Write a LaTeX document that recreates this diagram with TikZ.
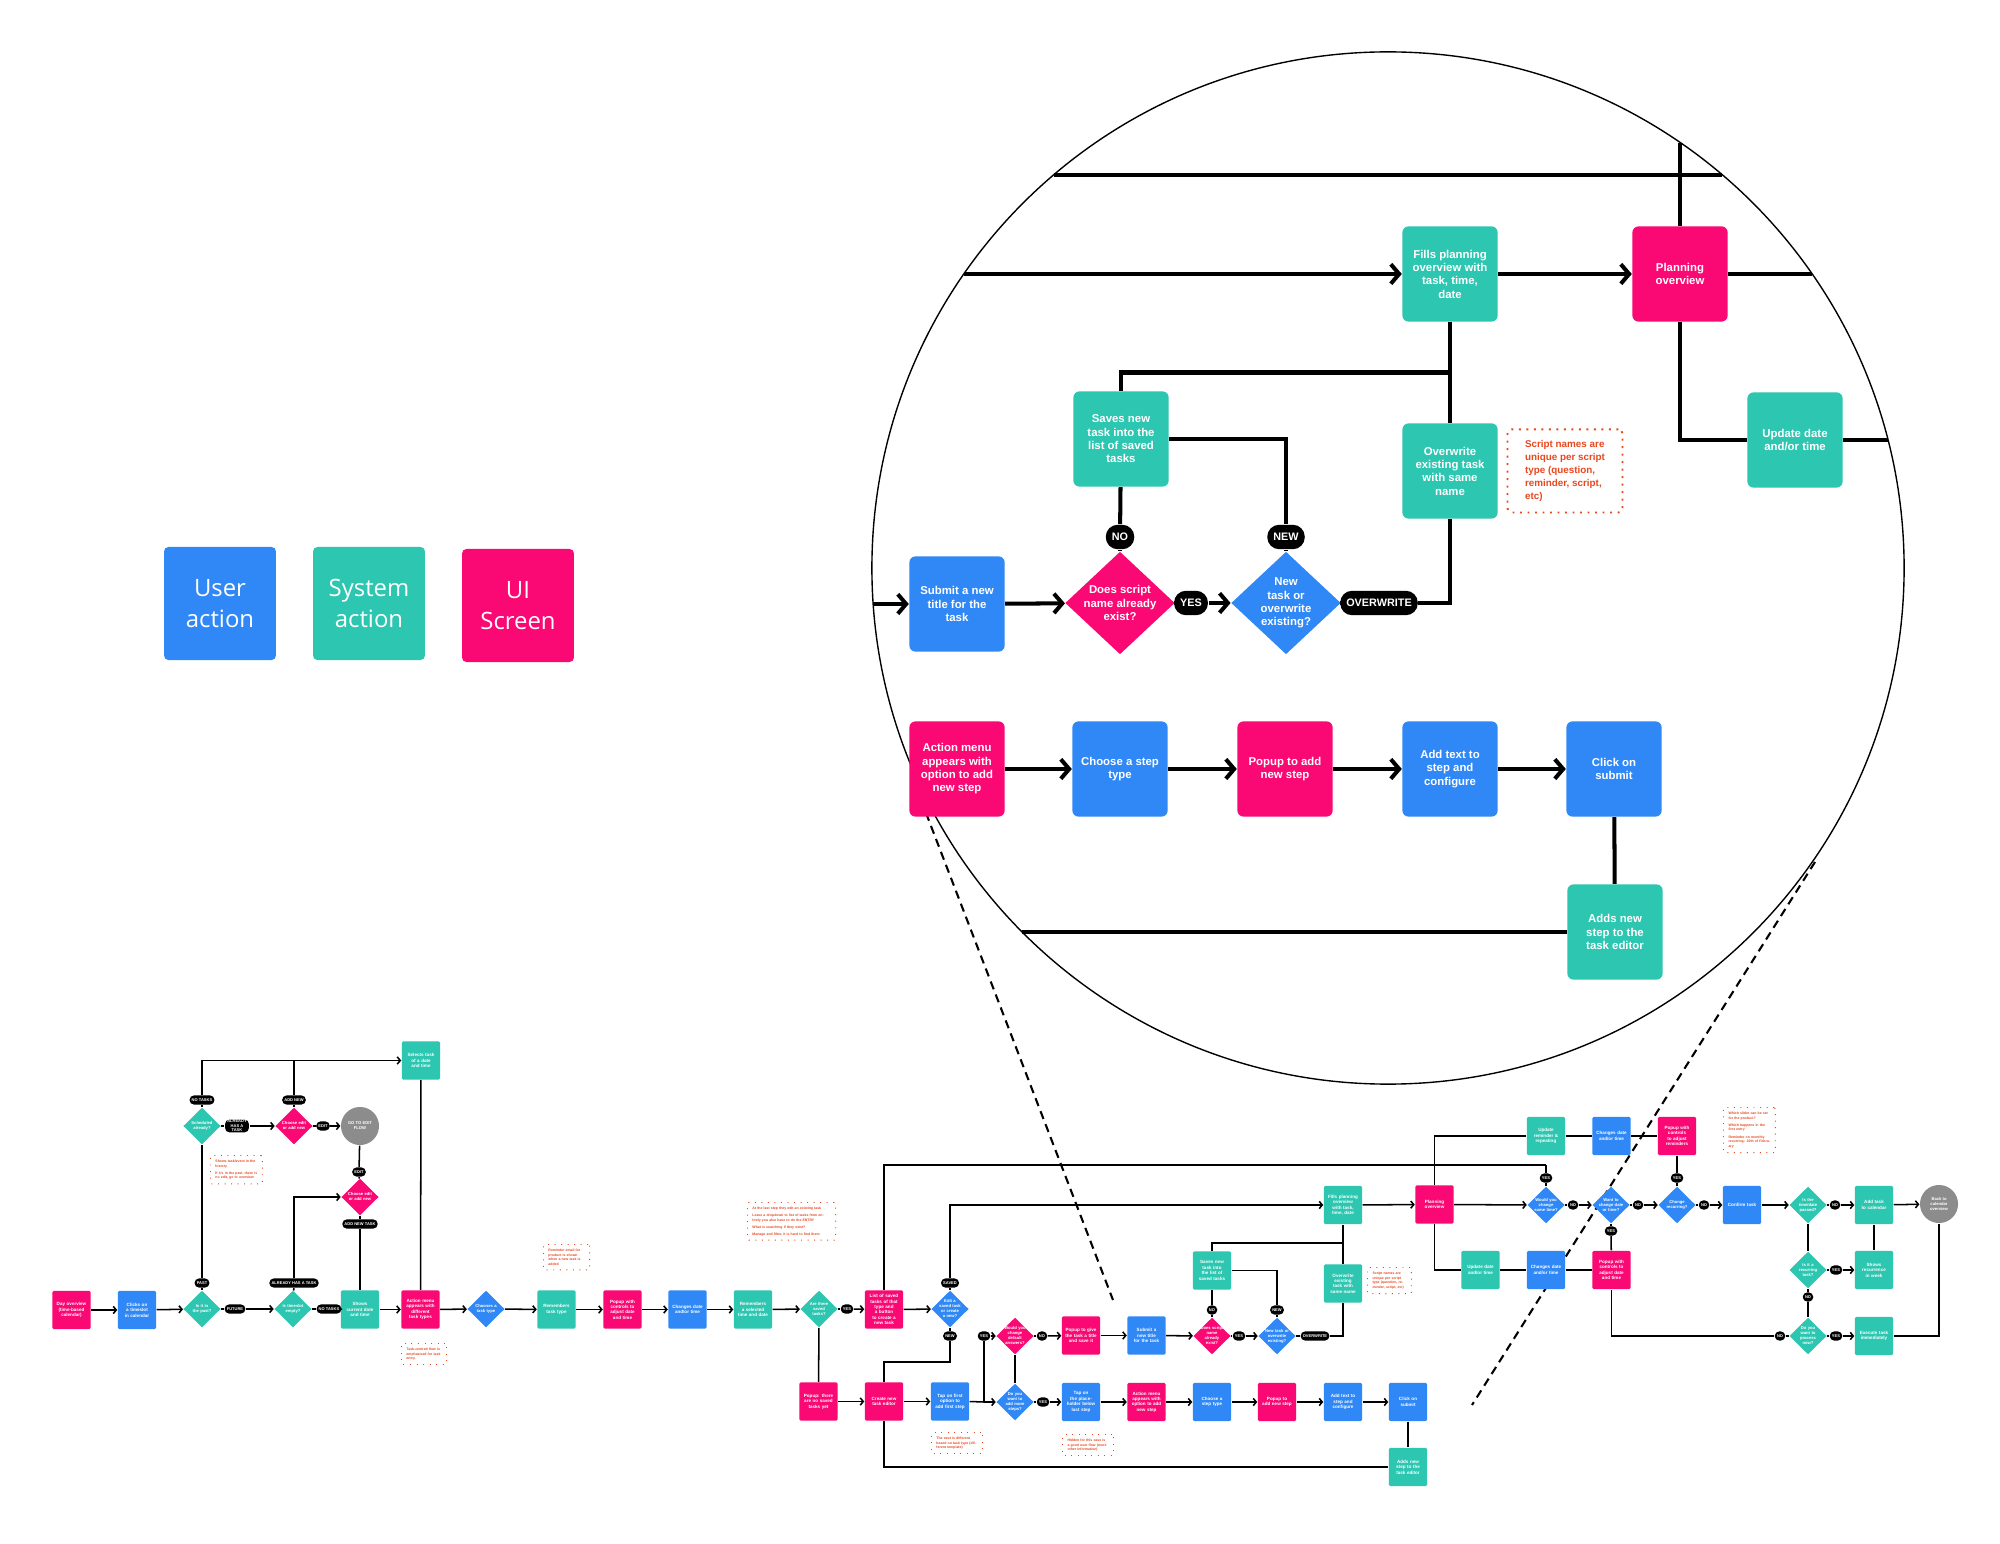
\documentclass[tikz,border=0pt]{standalone}
\usepackage{fontspec}
\setmainfont{Liberation Sans}
\newfontfamily\legfont{Open Sans}
\usetikzlibrary{shapes.geometric,arrows.meta}
\definecolor{ublue}{RGB}{47,136,245}
\definecolor{steal}{RGB}{45,198,177}
\definecolor{upink}{RGB}{250,8,115}
\definecolor{cgray}{RGB}{140,140,140}
\definecolor{norange}{RGB}{232,72,30}
\newcommand\bigf{\fontsize{4.1pt}{4.8pt}\selectfont\bfseries}
\newcommand\bpillf{\fontsize{3.9pt}{4.6pt}\selectfont\bfseries}
\newcommand\bnotef{\fontsize{3.55pt}{4.7pt}\selectfont\bfseries}
\newcommand\smf{\fontsize{1.65pt}{1.95pt}\selectfont\bfseries}
\newcommand\sdf{\fontsize{1.5pt}{1.8pt}\selectfont\bfseries}
\newcommand\spillf{\fontsize{1.45pt}{1.6pt}\selectfont\bfseries}
\newcommand\snotef{\fontsize{1.25pt}{1.75pt}\selectfont\bfseries}
\newcommand\legf{\legfont\fontsize{8.6pt}{11.4pt}\selectfont}
\tikzset{
  leg/.style={rectangle, rounded corners=1.6pt, minimum width=40.3pt, minimum height=40.7pt, text=white, align=center, font=\legf, inner sep=0},
  bbox/.style={rectangle, rounded corners=2.2pt, minimum width=34.3pt, minimum height=34.3pt, text=white, align=center, font=\bigf, inner sep=0},
  bdia/.style={diamond, minimum width=39.5pt, minimum height=37pt, inner sep=0},
  btxt/.style={text=white, align=center, font=\bigf, inner sep=0},
  bpill/.style={fill=black, text=white, rounded corners=4.3pt, minimum height=8.8pt, inner xsep=2.2pt, inner ysep=0, font=\bpillf},
  bnote/.style={draw=norange, dotted, line width=0.7pt, rounded corners=1.5pt, text=norange, align=left, font=\bnotef, minimum width=41.4pt, minimum height=29.9pt, inner sep=0, fill=white},
  bln/.style={line width=1.45pt},
  barr/.style={line width=1.45pt, -{Straight Barb[length=3pt,width=7pt]}},
  sbox/.style={rectangle, rounded corners=0.5pt, minimum width=13.8pt, minimum height=13.8pt, text width=11.5pt, text=white, align=center, font=\smf, inner sep=0},
  sdia/.style={diamond, minimum width=13.5pt, minimum height=13.3pt, inner sep=0},
  stxt/.style={text=white, align=center, font=\sdf, inner sep=0, text width=9pt},
  spill/.style={fill=black, text=white, rounded corners=1.6pt, minimum height=3.3pt, inner xsep=0.8pt, inner ysep=0.2pt, font=\spillf},
  snote/.style={draw=norange, dotted, line width=0.35pt, rounded corners=0.5pt, text=norange, align=left, font=\snotef, inner xsep=1.8pt, inner ysep=1.5pt, fill=white, anchor=north west},
  sgray/.style={circle, fill=cgray, minimum size=13.7pt, inner sep=0, text=white, align=center, font=\sdf},
  sln/.style={line width=0.55pt},
  sarr/.style={line width=0.55pt, -{Straight Barb[length=1.1pt,width=2.6pt]}},
  lens/.style={line width=0.75pt, dash pattern=on 3pt off 2pt},
}
\newcommand\BDia[4]{\node[bdia,fill=#3] (#1) at (#2) {}; \node[btxt] (#1t) at (#1) {#4};}
\newcommand\SDia[4]{\node[sdia,fill=#3] (#1) at (#2) {}; \node[stxt] (#1t) at (#1) {#4};}
\begin{document}
\begin{tikzpicture}[x=0.36pt,y=-0.36pt]
\fill[white] (0,0) rectangle (2000,1544);
\useasboundingbox (0,0) rectangle (2000,1544);

% ---------- lens lines and magnifier circle ----------
\coordinate (la1) at (921,800); \coordinate (la2) at (1113,1300);
\coordinate (lb1) at (1815,862); \coordinate (lb2) at (1472,1405);
\draw[lens] (la1) -- (la2);
\draw[lens] (lb1) -- (lb2);
\draw[line width=0.5pt] (1388,568) circle[radius=185.8pt];

% ---------- legend ----------
\node[leg, fill=ublue] (lu) at (220,603.5) {User\\action};
\node[leg, fill=steal] (ls) at (369,603.5) {System\\action};
\node[leg, fill=upink] (lp) at (518,605.5) {UI\\Screen};

% ---------- magnified part ----------
\node[bbox, fill=ublue] (csub) at (957,604) {Submit a new\\title for the\\task};
\BDia{cexist}{1120,603}{upink}{Does script\\name already\\exist?}
\node[bpill] (cyes) at (1191,603) {YES};
\BDia{cnewq}{1286,603}{ublue}{New\\task or\\overwrite\\existing?}
\node[bpill] (cow) at (1379,603) {OVERWRITE};
\node[bpill] (cno) at (1120,537) {NO};
\node[bpill] (cnew) at (1286,537) {NEW};
\node[bbox, fill=steal] (csaves) at (1121,439) {Saves new\\task into the\\list of saved\\tasks};
\node[bbox, fill=steal] (cfills) at (1450,274) {Fills planning\\overview with\\task, time,\\date};
\node[bbox, fill=steal] (cover) at (1450,471) {Overwrite\\existing task\\with same\\name};
\node[bnote] (cnote) at (1565,471) {Script names are\\unique per script\\type (question,\\reminder, script,\\etc)};
\node[bbox, fill=upink] (cplan) at (1680,274) {Planning\\overview};
\node[bbox, fill=steal] (cupd) at (1795,440) {Update date\\and/or time};
\node[bbox, fill=upink] (cact) at (957,769) {Action menu\\appears with\\option to add\\new step};
\node[bbox, fill=ublue] (cchoose) at (1120,769) {Choose a step\\type};
\node[bbox, fill=upink] (cpop) at (1285,769) {Popup to add\\new step};
\node[bbox, fill=ublue] (cadd) at (1450,769) {Add text to\\step and\\configure};
\node[bbox, fill=ublue] (cclick) at (1614,769) {Click on\\submit};
\node[bbox, fill=steal] (cadds) at (1615,932) {Adds new\\step to the\\task editor};

\coordinate (cl1) at (1053.6,175); \coordinate (cr1) at (1722.4,175);
\coordinate (ctop) at (1680,142.6);
\coordinate (cin) at (964,274);
\coordinate (cpr) at (1812,274);
\coordinate (cur) at (1888,440);
\coordinate (csl) at (873.3,604);
\coordinate (cal) at (1022,932);
\coordinate (cj1) at (1450,372.5);

\draw[bln] (cl1) -- (cr1);
\draw[bln] (cplan.north) -- (ctop);
\draw[barr] (cin) -- (cfills.west);
\draw[barr] (cfills) -- (cplan);
\draw[bln] (cplan.east) -- (cpr);
\draw[bln] (cplan.south) |- (cupd.west);
\draw[bln] (cupd.east) -- (cur);
\draw[bln] (cfills.south) -- (cover.north);
\draw[bln] (cj1) -| (csaves.north);
\draw[bln] (csaves.east) -| (cnew.north);
\draw[bln] (cnew) -- (cnewq);
\draw[bln] (csaves) -- (cno);
\draw[bln] (cno) -- (cexist);
\draw[barr] (csl) -- (csub.west);
\draw[barr] (csub) -- (cexist);
\draw[bln] (cexist) -- (cyes);
\draw[barr] (cyes) -- (cnewq);
\draw[bln] (cnewq) -- (cow);
\draw[bln] (cow.east) -| (cover.south);
\draw[barr] (cact) -- (cchoose);
\draw[barr] (cchoose) -- (cpop);
\draw[barr] (cpop) -- (cadd);
\draw[barr] (cadd) -- (cclick);
\draw[bln] (cclick) -- (cadds);
\draw[bln] (cadds.west) -- (cal);

% ---------- small overview flow: left part ----------
\node[sbox, fill=upink] (s1) at (71.5,1310) {Day overview (time-based calendar)};
\node[sbox, fill=ublue] (s2) at (137,1310) {Clicks on a timeslot in calendar};
\SDia{s3}{202,1309}{steal}{Is it in the past?}
\node[spill] (sfut) at (235,1309) {FUTURE};
\SDia{s4}{293,1309}{steal}{Is timeslot empty?}
\node[spill] (snt1) at (329,1309) {NO TASKS};
\node[sbox, fill=steal] (s5) at (360,1309.5) {Shows current date and time};
\node[sbox, fill=upink] (s6) at (420.5,1309.5) {Action menu appears with different task types};
\node[spill] (spast) at (202,1283) {PAST};
\node[spill] (sah1) at (294,1283) {ALREADY HAS A TASK};
\SDia{s7}{202,1126}{steal}{Scheduled already?}
\node[spill] (snt2) at (202,1100) {NO TASKS};
\node[spill, align=center] (sah2) at (237,1126) {ALREADY\\HAS A\\TASK};
\SDia{s9}{294,1126}{upink}{Choose edit or add new}
\node[spill] (san) at (294,1100) {ADD NEW};
\node[spill] (sed1) at (323,1126) {EDIT};
\node[sgray] (s10) at (360,1126) {GO TO EDIT\\FLOW};
\node[spill] (sed2) at (359,1172) {EDIT};
\SDia{s11}{360,1197}{upink}{Choose edit or add new}
\node[spill] (sant) at (360,1224) {ADD NEW TASK};
\node[sbox, fill=steal] (s8) at (421,1060.5) {Selects task of a date and time};

\draw[sarr] (s1) -- (s2);
\draw[sarr] (s2) -- (s3);
\draw[sln] (s3) -- (sfut);
\draw[sarr] (sfut) -- (s4);
\draw[sln] (s4) -- (snt1);
\draw[sln] (snt1) -- (s5);
\draw[sarr] (s5) -- (s6);
\draw[sln] (s3) -- (spast);
\draw[sln] (spast) -- (s7);
\draw[sln] (s7) -- (snt2);
\draw[sarr] (snt2.north) |- (s8.west);
\draw[sln] (s9) -- (san);
\draw[sln] (san.north) -- (san.north |- s8.west);
\draw[sln] (s7) -- (sah2);
\draw[sarr] (sah2) -- (s9);
\draw[sln] (s9) -- (sed1);
\draw[sarr] (sed1) -- (s10);
\draw[sln] (s10) -- (sed2);
\draw[sln] (sed2) -- (s11);
\draw[sln] (s4) -- (sah1);
\draw[sarr] (sah1.north) |- (s11.west);
\draw[sln] (s11) -- (sant);
\draw[sln] (sant) -- (s5);
\draw[sln] (s8) -- (s6);

% ---------- small overview flow: middle ----------
\SDia{s12}{486,1309}{ublue}{Chooses a task type}
\node[sbox, fill=steal] (s13) at (556.5,1309.5) {Remembers task type};
\node[sbox, fill=upink] (s14) at (622.5,1309.5) {Popup with controls to adjust date and time};
\node[sbox, fill=ublue] (s15) at (687.5,1309.5) {Changes date and/or time};
\node[sbox, fill=steal] (s16) at (753,1309.5) {Remembers a selected time and date};
\SDia{s17}{819,1309}{steal}{Are there saved tasks?}
\node[spill] (syes1) at (847,1309) {YES};
\node[sbox, fill=upink] (s18) at (884,1309.5) {List of saved tasks of that type and a button to create a new task};
\SDia{s19}{950,1309}{ublue}{Edit a saved task or create a new?}
\node[spill] (ssav) at (950,1283) {SAVED};
\node[spill] (snew1) at (950,1336) {NEW};
\node[sbox, fill=upink] (s20) at (818.5,1401.5) {Popup: there are no saved tasks yet};
\node[sbox, fill=upink] (s21) at (884,1401.5) {Create new task editor};
\node[sbox, fill=ublue] (s22) at (950,1401.5) {Tap on first option to add first step};
\node[spill] (syes2) at (984,1336) {YES};
\SDia{s24}{1015,1336}{upink}{Would you change default answers?}
\SDia{s23}{1015,1402}{ublue}{Do you want to add more steps?}
\node[spill] (sno1) at (1042,1336) {NO};
\node[sbox, fill=upink] (s25) at (1081,1335.5) {Popup to give the task a title and save it};
\node[sbox, fill=ublue] (s26) at (1146.5,1335.5) {Submit a new title for the task};
\SDia{s27}{1212,1336}{upink}{Does script name already exist?}
\node[spill] (sno2) at (1212,1310) {NO};
\node[sbox, fill=steal] (s28) at (1212,1270.5) {Saves new task into the list of saved tasks};
\node[spill] (syes3) at (1239,1336) {YES};
\SDia{s29}{1277,1336}{ublue}{New task or overwrite existing?}
\node[spill] (snew2) at (1277,1310) {NEW};
\node[spill] (sow) at (1315,1336) {OVERWRITE};
\node[sbox, fill=steal] (s30) at (1343,1283.5) {Overwrite existing task with same name};
\node[sbox, fill=steal] (s31) at (1343,1205) {Fills planning overview with task, time, date};
\node[sbox, fill=upink] (s32) at (1434.5,1204.5) {Planning overview};
\node[spill] (syes4) at (1043,1402) {YES};
\node[sbox, fill=ublue] (s33) at (1081,1402) {Tap on the placeholder below last step};
\node[sbox, fill=upink] (s34) at (1146.5,1402) {Action menu appears with option to add new step};
\node[sbox, fill=ublue] (s35) at (1212,1402) {Choose a step type};
\node[sbox, fill=upink] (s36) at (1277,1402) {Popup to add new step};
\node[sbox, fill=ublue] (s37) at (1343,1402) {Add text to step and configure};
\node[sbox, fill=ublue] (s38) at (1408,1402) {Click on submit};
\node[sbox, fill=steal] (s39) at (1408,1467) {Adds new step to the task editor};

\coordinate (k1) at (884,1165); \coordinate (k2) at (1546,1165);
\coordinate (k3) at (950,1205);
\coordinate (k4) at (950,1362); \coordinate (k5) at (884,1362);
\coordinate (k6) at (984,1402);
\coordinate (k7) at (1212,1243); \coordinate (k8) at (1343,1243);
\coordinate (k10) at (884,1467);

\draw[sarr] (s6) -- (s12);
\draw[sarr] (s12) -- (s13);
\draw[sarr] (s13) -- (s14);
\draw[sarr] (s14) -- (s15);
\draw[sarr] (s15) -- (s16);
\draw[sarr] (s16) -- (s17);
\draw[sln] (s17) -- (syes1);
\draw[sarr] (syes1) -- (s18);
\draw[sarr] (s18) -- (s19);
\draw[sln] (s18.north) -- (k1) -- (k2);
\draw[sln] (s19) -- (ssav);
\draw[sarr] (ssav.north) -- (k3) -- (s31.west);
\draw[sln] (s19) -- (snew1);
\draw[sln] (snew1.south) -- (k4) -- (k5) -- (s21.north);
\draw[sln] (s17) -- (s20);
\draw[sarr] (s20) -- (s21);
\draw[sarr] (s21) -- (s22);
\draw[sln] (s22.east) -- (k6);
\draw[sarr] (k6) -- (s23.west);
\draw[sln] (k6) -- (syes2);
\draw[sarr] (syes2) -- (s24);
\draw[sln] (s24) -- (s23);
\draw[sln] (s24) -- (sno1);
\draw[sarr] (sno1) -- (s25);
\draw[sarr] (s25) -- (s26);
\draw[sarr] (s26) -- (s27);
\draw[sln] (s27) -- (sno2);
\draw[sln] (sno2) -- (s28);
\draw[sln] (s28.north) -- (k7) -- (k8);
\draw[sln] (s28.east) -| (snew2.north);
\draw[sln] (snew2) -- (s29);
\draw[sln] (s27) -- (syes3);
\draw[sarr] (syes3) -- (s29);
\draw[sln] (s29) -- (sow);
\draw[sln] (sow.east) -| (s30.south);
\draw[sln] (s30) -- (s31);
\draw[sarr] (s31) -- (s32);
\draw[sln] (s23) -- (syes4);
\draw[sarr] (syes4) -- (s33);
\draw[sarr] (s33) -- (s34);
\draw[sarr] (s34) -- (s35);
\draw[sarr] (s35) -- (s36);
\draw[sarr] (s36) -- (s37);
\draw[sarr] (s37) -- (s38);
\draw[sln] (s38) -- (s39);
\draw[sln] (s21.south) -- (k10) -- (s39.west);

% ---------- small overview flow: right part ----------
\node[sbox, fill=steal] (s40) at (1546,1136) {Update reminder \& repeating};
\node[sbox, fill=ublue] (s41) at (1611.5,1136) {Changes date and/or time};
\node[sbox, fill=upink] (s42) at (1677,1136) {Popup with controls to adjust reminders};
\node[spill] (syes5) at (1546,1178) {YES};
\SDia{s43}{1546,1205}{ublue}{Would you change some time?}
\node[spill] (sno3) at (1573,1205) {NO};
\SDia{s44}{1611,1205}{ublue}{Want to change date or time?}
\node[spill] (sno4) at (1638,1205) {NO};
\node[spill] (syes6) at (1677,1178) {YES};
\SDia{s45}{1677,1205}{ublue}{Change recurring?}
\node[spill] (sno5) at (1704,1205) {NO};
\node[spill] (syes7) at (1611,1231) {YES};
\node[sbox, fill=steal] (s46) at (1480.5,1270) {Update date and/or time};
\node[sbox, fill=ublue] (s47) at (1546,1270) {Changes date and/or time};
\node[sbox, fill=upink] (s48) at (1611.5,1270) {Popup with controls to adjust date and time};
\node[sbox, fill=ublue] (s49) at (1742,1205) {Confirm task};
\SDia{s50}{1808,1205}{steal}{Is the time/date passed?}
\node[spill] (sno6) at (1835,1205) {NO};
\node[sbox, fill=steal] (s51) at (1874,1205) {Add task to calendar};
\node[sgray] (s52) at (1939,1204) {Back to\\calendar\\overview};
\SDia{s53}{1808,1270}{steal}{Is it a recurring task?}
\node[spill] (syes8) at (1836,1270) {YES};
\node[sbox, fill=steal] (s54) at (1874,1270) {Shows recurrence in week};
\node[spill] (sno7) at (1808,1297) {NO};
\SDia{s55}{1808,1336}{steal}{Do you want to process now?}
\node[spill] (sno8) at (1780,1336) {NO};
\node[spill] (syes9) at (1836,1336) {YES};
\node[sbox, fill=steal] (s56) at (1874,1336) {Execute task immediately};

\coordinate (k9) at (1434.5,1136);
\draw[sln] (k2) -- (syes5.north);
\draw[sln] (syes5) -- (s43);
\draw[sarr] (s32) -- (s43);
\draw[sln] (s32.north) -- (k9) -- (s40.west);
\draw[sln] (s40) -- (s41);
\draw[sln] (s41) -- (s42);
\draw[sln] (s42) -- (syes6);
\draw[sln] (syes6) -- (s45);
\draw[sln] (s32.south) |- (s46.west);
\draw[sln] (s46) -- (s47);
\draw[sln] (s47) -- (s48);
\draw[sln] (s43) -- (sno3);
\draw[sarr] (sno3) -- (s44);
\draw[sln] (s44) -- (syes7);
\draw[sln] (syes7) -- (s48);
\draw[sln] (s44) -- (sno4);
\draw[sarr] (sno4) -- (s45);
\draw[sln] (s45) -- (sno5);
\draw[sarr] (sno5) -- (s49);
\draw[sarr] (s49) -- (s50);
\draw[sln] (s50) -- (sno6);
\draw[sarr] (sno6) -- (s51);
\draw[sarr] (s51) -- (s52);
\draw[sln] (s50) -- (s53);
\draw[sln] (s53) -- (syes8);
\draw[sarr] (syes8) -- (s54);
\draw[sln] (s51) -- (s54);
\draw[sln] (s53) -- (sno7);
\draw[sln] (sno7) -- (s55);
\draw[sln] (s48.south) |- (sno8.west);
\draw[sln] (sno8) -- (s55);
\draw[sln] (s55) -- (syes9);
\draw[sarr] (syes9) -- (s56);
\draw[sln] (s56.east) -| (s52.south);

% ---------- small notes ----------
\node[snote, text width=12.6pt] (n1) at (401,1343) {Task-centred flow is emphasised for task entry.};
\node[snote, text width=15.1pt] (n2) at (210,1155) {Shows task/event in the history\\[0.8pt] If it's in the past, there is no edit, go to overview};
\node[snote, text width=13pt] (n3) at (543,1244) {Reminder email for product is shown when a new task is added};
\node[snote, text width=28.1pt] (n4) at (747,1202) {At the last step they edit an existing task\\[0.8pt] Leave a dropdown to list of tasks from entirely you also have to do the ENTRY\\[0.8pt] What is searching if they exist?\\[0.8pt] Manage and filter, it is hard to find them};
\node[snote, text width=14.8pt] (n5) at (931,1432) {The next is different based on task type (different template)};
\node[snote, text width=14.8pt] (n6) at (1062,1434) {Hidden for this case is a good user flow (more other information)};
\node[snote, text width=12.2pt] (n7) at (1367,1267) {Script names are unique per script type (question, reminder, script, etc)};
\node[snote, text width=15.1pt] (n8) at (1723,1107) {Which slider can be set for the product?\\[0.8pt] Which happens in the first entry\\[0.8pt] Reminder on monthly recurring: 30th of February};
\end{tikzpicture}
\end{document}
